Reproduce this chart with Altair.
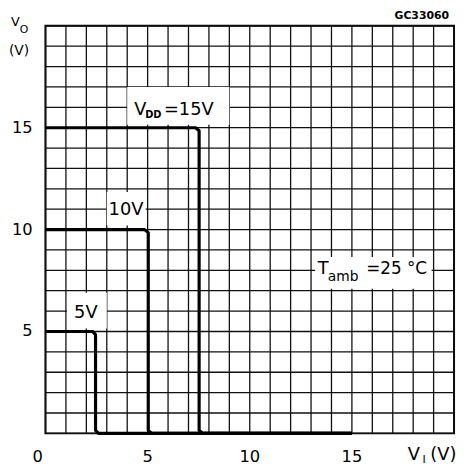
import altair as alt
import pandas as pd

# ---- data -------------------------------------------------------------
x_ticks = list(range(0, 21))
y_ticks = list(range(0, 21))
x_labels_shown = [0, 5, 10, 15]
y_labels_shown = [5, 10, 15]

vdd_levels = [5, 10, 15]
curve_5v_x = [0, 2.3, 2.45, 2.45, 2.6, 15]
curve_5v_y = [5, 5, 4.85, 0.15, 0, 0]
curve_10v_x = [0, 4.85, 5.03, 5.03, 5.2, 15]
curve_10v_y = [10, 10, 9.85, 0.15, 0, 0]
curve_15v_x = [0, 7.35, 7.52, 7.52, 7.7, 15]
curve_15v_y = [15, 15, 14.85, 0.15, 0, 0]

curve_labels = ["=15V", "10V", "5V"]
vdd_main, vdd_sub = "V", "DD"
tamb_main, tamb_sub, tamb_val = "T", "amb", "=25 °C"
y_title_main, y_title_sub, y_title_unit = "V", "O", "(V)"
x_title_main, x_title_sub, x_title_unit = "V", "I", "(V)"
figure_code = "GC33060"

rows = []
for v, xs_, ys_ in zip(vdd_levels, [curve_5v_x, curve_10v_x, curve_15v_x],
                       [curve_5v_y, curve_10v_y, curve_15v_y]):
    for i, (a, b) in enumerate(zip(xs_, ys_)):
        rows.append({"vdd": v, "i": i, "vi": a, "vo": b})
df = pd.DataFrame(rows)
one = pd.DataFrame({"k": [0]})
xt_df = pd.DataFrame({"v": x_ticks})
yt_df = pd.DataFrame({"v": y_ticks})
xl_df = pd.DataFrame({"v": x_labels_shown})
yl_df = pd.DataFrame({"v": y_labels_shown})

FONT = "DejaVu Sans"
xscale = alt.Scale(domain=[0, 20], nice=False, zero=False)
yscale = alt.Scale(domain=[0, 20], nice=False, zero=False)
GRID = "#111111"

vgrid = alt.Chart(xt_df).mark_rule(color=GRID, strokeWidth=1.3).encode(
    x=alt.X("v:Q", scale=xscale, axis=None),
    y=alt.YDatum(0, scale=yscale, axis=None), y2=alt.Y2Datum(20),
)
hgrid = alt.Chart(yt_df).mark_rule(color=GRID, strokeWidth=1.3).encode(
    y=alt.Y("v:Q", scale=yscale, axis=None),
    x=alt.XDatum(0, scale=xscale, axis=None), x2=alt.X2Datum(20),
)

xlab0 = alt.Chart(xl_df).transform_filter("datum.v == 0").mark_text(
    font=FONT, fontSize=16.5, color="black", baseline="middle", dx=-8
).encode(x=alt.X("v:Q", axis=None), y=alt.value(437), text="v:Q")
xlab = alt.Chart(xl_df).transform_filter("datum.v != 0").mark_text(
    font=FONT, fontSize=16.5, color="black", baseline="middle"
).encode(x=alt.X("v:Q", axis=None), y=alt.value(437), text="v:Q")
ylab = alt.Chart(yl_df).mark_text(
    font=FONT, fontSize=16.5, color="black", baseline="middle", align="right"
).encode(y=alt.Y("v:Q", axis=None), x=alt.value(-13), text="v:Q")

lines = alt.Chart(df).mark_line(
    color="black", strokeWidth=3.2, strokeJoin="round", strokeCap="butt"
).encode(
    x=alt.X("vi:Q", scale=xscale, axis=None),
    y=alt.Y("vo:Q", scale=yscale, axis=None),
    detail="vdd:N",
    order="i:Q",
)


def box(x1, x2, y1, y2):
    return alt.Chart(one).mark_rect(color="white").encode(
        x=alt.XDatum(x1, axis=None), x2=alt.X2Datum(x2),
        y=alt.YDatum(y1, axis=None), y2=alt.Y2Datum(y2),
    )


def dtext(s, x, y, size=18, weight="normal", align="left"):
    return alt.Chart(one).mark_text(
        text=s, font=FONT, fontSize=size, fontWeight=weight, align=align,
        baseline="middle", color="black"
    ).encode(x=alt.XDatum(x, axis=None), y=alt.YDatum(y, axis=None))


def ptext(s, x, y, size=17, weight="normal", align="left"):
    return alt.Chart(one).mark_text(
        text=s, font=FONT, fontSize=size, fontWeight=weight, align=align,
        baseline="middle", color="black"
    ).encode(x=alt.value(x), y=alt.value(y))


layers = [
    vgrid, hgrid,
    box(4.0, 9.0, 15.15, 17.0),
    box(3.0, 4.9, 10.2, 11.85),
    box(1.05, 3.0, 5.15, 6.9),
    box(13.2, 18.9, 7.1, 8.65),
    lines,
    xlab0, xlab, ylab,
    dtext(vdd_main, 4.35, 15.88),
    dtext(vdd_sub, 4.88, 15.6, size=10, weight="bold"),
    dtext(curve_labels[0], 5.8, 15.88),
    dtext(curve_labels[1], 3.09, 10.95),
    dtext(curve_labels[2], 1.4, 5.88),
    dtext(tamb_main, 13.33, 8.06),
    dtext(tamb_sub, 13.82, 7.65, size=14),
    dtext(tamb_val, 15.7, 8.06, size=17),
    ptext(y_title_main, -35, -4, size=13),
    ptext(y_title_sub, -26, 4, size=11),
    ptext(y_title_unit, -37, 26, size=14),
    ptext(figure_code, 409, -10, size=11, weight="bold", align="right"),
    ptext(x_title_main, 367, 435, size=18),
    ptext(x_title_sub, 382, 440, size=11),
    ptext(x_title_unit, 390, 435, size=18),
]

chart = alt.layer(*layers).properties(
    width=414, height=413,
    autosize=alt.AutoSizeParams(type="none"),
    padding={"left": 38, "top": 15, "right": 3, "bottom": 30},
).configure_view(stroke="black", strokeWidth=2)

chart.save("out.html", embed_options={"renderer": "svg", "actions": False})
